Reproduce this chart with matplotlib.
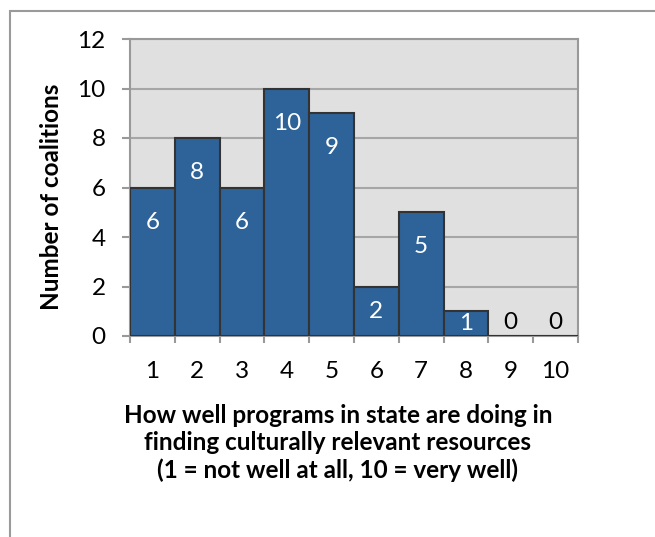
import matplotlib
matplotlib.use("Agg")
import matplotlib.pyplot as plt
from matplotlib.patches import Rectangle

plt.rcParams['font.family'] = ['Lato', 'DejaVu Sans']

# ratings 1..10 and number of coalitions for each
ratings = [1, 2, 3, 4, 5, 6, 7, 8, 9, 10]
counts = [6, 8, 6, 10, 9, 2, 5, 1, 0, 0]
y_ticks = [0, 2, 4, 6, 8, 10, 12]

bar_color = '#2e6399'
edge_color = '#333333'
grid_color = '#a6a6a6'
fs = 17.5

fig = plt.figure(figsize=(6.55, 5.37), dpi=100)
ax = fig.add_axes([130 / 655, 1 - 336 / 537, 448 / 655, 297 / 537])
ax.set_facecolor('#e0e0e0')

ax.bar(ratings, counts, width=1.0, color=bar_color, edgecolor=edge_color,
       linewidth=1.5, zorder=3)

# value labels: white inside the bar near the top, black above empty bars
for x, v in zip(ratings, counts):
    if v == 0:
        ax.text(x, 0.55, str(v), ha='center', va='center', fontsize=fs,
                color='black', zorder=4)
    else:
        ax.text(x, max(v - 1.4, v / 2), str(v), ha='center', va='center',
                fontsize=fs, color='white', zorder=4)

ax.set_xlim(0.5, 10.5)
ax.set_ylim(0, 12)
ax.set_yticks(y_ticks)
ax.set_yticklabels([str(t) for t in y_ticks], fontsize=fs)
ax.yaxis.grid(True, color=grid_color, linewidth=1.5, zorder=1)
ax.set_axisbelow(True)

# x ticks sit at bar edges, labels centred under the bars
ax.set_xticks([r + 0.5 for r in [0] + ratings])
ax.set_xticklabels([])
ax.set_xticks(ratings, minor=True)
ax.set_xticklabels([str(r) for r in ratings], minor=True, fontsize=fs)
ax.tick_params(axis='x', which='minor', length=0, pad=18)
ax.tick_params(axis='x', which='major', length=5, width=1.5, color='#999999')
ax.tick_params(axis='y', length=5.5, width=1.5, color='#999999', pad=12)

for s in ['left', 'right', 'top', 'bottom']:
    ax.spines[s].set_color('#999999')
    ax.spines[s].set_linewidth(1.5)

fig.text(52 / 655, 1 - 197 / 537, 'Number of coalitions', rotation=90,
         ha='center', va='center', fontsize=fs, fontweight='bold')
fig.text(338 / 655, 1 - 443 / 537,
         'How well programs in state are doing in\n'
         'finding culturally relevant resources\n'
         '(1 = not well at all, 10 = very well)',
         ha='center', va='center', fontsize=fs, fontweight='bold',
         linespacing=1.22)

# outer chart frame (extends past the right and bottom edges)
fig.patches.append(Rectangle((10 / 655, -0.1), 1.0, 1 - 11 / 537 + 0.1,
                             transform=fig.transFigure, fill=False,
                             edgecolor='#9a9a9a', linewidth=1.5))

fig.savefig('out.png', dpi=100)
